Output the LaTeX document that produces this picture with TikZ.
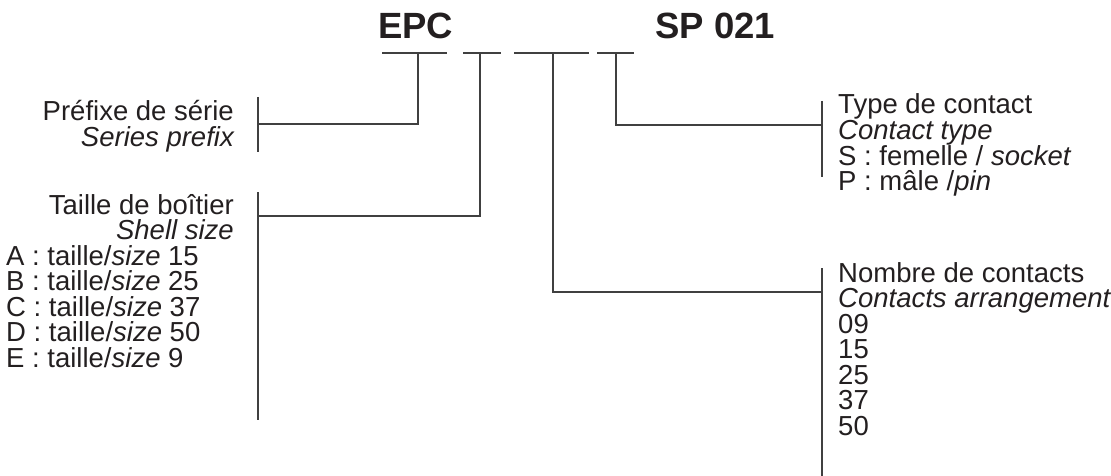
\documentclass[tikz,border=0pt]{standalone}
\usepackage{fontspec}
\setmainfont{Liberation Sans}
\definecolor{txt}{HTML}{231F20}
\definecolor{linec}{HTML}{404040}
\begin{document}
\begin{tikzpicture}[x=1pt,y=-1pt,
  lbl/.style={font=\fontsize{27.5}{27.5}\selectfont, text=txt, inner sep=0pt},
  head/.style={font=\fontsize{36.5}{37}\selectfont\bfseries, text=txt, inner sep=0pt},
  ln/.style={draw=linec, line width=1.3pt}]
\useasboundingbox (0,0) rectangle (1111,476);

% heading
\node[head, anchor=base west] (epc) at (378,38.5) {EPC};
\node[head, anchor=base west] (sp) at (655,38.5) {SP 021};

% underline segments
\coordinate (u1a) at (382,53); \coordinate (u1b) at (447,53); \coordinate (s1) at (418,53);
\coordinate (u2a) at (463,53); \coordinate (u2b) at (501,53); \coordinate (s2) at (480,53);
\coordinate (u3a) at (514,53); \coordinate (u3b) at (589,53); \coordinate (s3) at (553,53);
\coordinate (u4a) at (597,53); \coordinate (u4b) at (634,53); \coordinate (s4) at (616,53);
\draw[ln] (u1a) -- (u1b);
\draw[ln] (u2a) -- (u2b);
\draw[ln] (u3a) -- (u3b);
\draw[ln] (u4a) -- (u4b);

% bars
\coordinate (b1t) at (258,97);  \coordinate (b1b) at (258,152); \coordinate (b1m) at (258,124);
\coordinate (b2t) at (258,192); \coordinate (b2b) at (258,420); \coordinate (b2m) at (258,216);
\coordinate (b3t) at (822,101); \coordinate (b3b) at (822,177); \coordinate (b3m) at (822,125);
\coordinate (b4t) at (822,268); \coordinate (b4b) at (822,476); \coordinate (b4m) at (822,292);
\draw[ln] (b1t) -- (b1b);
\draw[ln] (b2t) -- (b2b);
\draw[ln] (b3t) -- (b3b);
\draw[ln] (b4t) -- (b4b);

% connectors
\draw[ln] (s1) |- (b1m);
\draw[ln] (s2) |- (b2m);
\draw[ln] (s4) |- (b3m);
\draw[ln] (s3) |- (b4m);

% left block 1
\node[lbl, anchor=base east] (pf1) at (234,121) {Préfixe de série};
\node[lbl, anchor=base east] (pf2) at (234,146.5) {\itshape Series prefix};

% left block 2
\node[lbl, anchor=base east] (ts1) at (234,214) {Taille de boîtier};
\node[lbl, anchor=base east] (ts2) at (234,239.5) {\itshape Shell size};
\node[lbl, anchor=base west] (tsA) at (6,265) {A : taille/\textit{size} 15};
\node[lbl, anchor=base west] (tsB) at (6,290.5) {B : taille/\textit{size} 25};
\node[lbl, anchor=base west] (tsC) at (6,316) {C : taille/\textit{size} 37};
\node[lbl, anchor=base west] (tsD) at (6,341.5) {D : taille/\textit{size} 50};
\node[lbl, anchor=base west] (tsE) at (6,367) {E : taille/\textit{size} 9};

% right block 1
\node[lbl, anchor=base west] (tc1) at (838,114) {Type de contact};
\node[lbl, anchor=base west] (tc2) at (838,139.5) {\itshape Contact type};
\node[lbl, anchor=base west] (tc3) at (838,165) {S : femelle / \textit{socket}};
\node[lbl, anchor=base west] (tc4) at (838,190.5) {P : mâle /\textit{pin}};

% right block 2
\node[lbl, anchor=base west] (nc1) at (838,282) {Nombre de contacts};
\node[lbl, anchor=base west] (nc2) at (838,307.5) {\itshape Contacts arrangement};
\node[lbl, anchor=base west] (nc3) at (838,333) {09};
\node[lbl, anchor=base west] (nc4) at (838,358.5) {15};
\node[lbl, anchor=base west] (nc5) at (838,384) {25};
\node[lbl, anchor=base west] (nc6) at (838,409.5) {37};
\node[lbl, anchor=base west] (nc7) at (838,435) {50};
\end{tikzpicture}
\end{document}
